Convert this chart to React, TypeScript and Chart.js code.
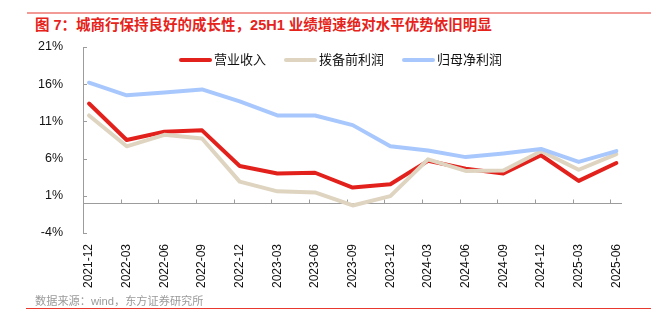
import React, { useEffect, useRef } from 'react';
import { Chart, registerables } from 'chart.js';

Chart.register(...registerables);

const categories = [
  '2021-12', '2022-03', '2022-06', '2022-09', '2022-12', '2023-03', '2023-06', '2023-09',
  '2023-12', '2024-03', '2024-06', '2024-09', '2024-12', '2025-03', '2025-06',
];
// 营业收入
const revenue = [13.4, 8.5, 9.6, 9.8, 5.0, 4.0, 4.1, 2.1, 2.55, 5.7, 4.65, 4.0, 6.45, 3.0, 5.4];
// 拨备前利润
const ppop = [11.8, 7.65, 9.2, 8.7, 2.9, 1.6, 1.45, -0.3, 0.95, 5.9, 4.35, 4.4, 7.0, 4.5, 6.6];
// 归母净利润
const netProfit = [16.2, 14.5, 14.9, 15.3, 13.7, 11.8, 11.8, 10.5, 7.65, 7.1, 6.2, 6.7, 7.3, 5.55, 7.0];

const yTickValues = [-4, 1, 6, 11, 16, 21];
const seriesNames = ['营业收入', '拨备前利润', '归母净利润'];
const seriesColors = ['#e3211c', '#ded4c0', '#a8c8fd'];
const seriesValues = [revenue, ppop, netProfit];
const seriesOrder = [2, 1, 0];

const titleText = '图 7：城商行保持良好的成长性，25H1 业绩增速绝对水平优势依旧明显';
const sourceText = '数据来源：wind，东方证券研究所';

const AXIS_COLOR = '#9c9c9c';
const TICK_SHIFT = -0.16;
const LATIN = '"Liberation Sans", Arial, "Noto Sans CJK SC", sans-serif';
const CJK = '"Liberation Sans", Arial, "Noto Sans CJK SC", sans-serif';

const axisMarks = {
  id: 'axisMarks',
  beforeDatasetsDraw(chart: any) {
    const { ctx, chartArea, scales } = chart;
    const x = scales.x;
    const y = scales.y;
    ctx.save();
    ctx.strokeStyle = AXIS_COLOR;
    ctx.lineWidth = 1;
    ctx.beginPath();
    const y0 = Math.round(y.getPixelForValue(0)) + 0.5;
    ctx.moveTo(chartArea.left, y0);
    ctx.lineTo(chartArea.right, y0);
    for (let i = 1; i < categories.length; i++) {
      const px = Math.round(x.getPixelForValue(i + TICK_SHIFT)) + 0.5;
      ctx.moveTo(px, y0);
      ctx.lineTo(px, y0 - 4);
    }
    const lx = Math.round(chartArea.left);
    y.ticks.forEach((t: any) => {
      const py = Math.round(y.getPixelForValue(t.value)) + 0.5;
      ctx.moveTo(lx, py);
      ctx.lineTo(lx + 4, py);
    });
    ctx.stroke();
    ctx.restore();
  },
};

export default function App() {
  const canvasRef = useRef<HTMLCanvasElement | null>(null);

  useEffect(() => {
    if (!canvasRef.current) return;
    const chart = new Chart(canvasRef.current, {
      type: 'line',
      data: {
        datasets: seriesNames.map((name, s) => ({
          label: name,
          data: seriesValues[s].map((v, i) => ({ x: i, y: v })),
          borderColor: seriesColors[s],
          backgroundColor: seriesColors[s],
          borderWidth: 4,
          pointRadius: 0,
          tension: 0,
          borderJoinStyle: 'round',
          borderCapStyle: 'round',
          order: seriesOrder[s],
        })),
      },
      options: {
        animation: false,
        responsive: false,
        events: [],
        layout: { padding: { top: 47, right: 35, left: 0, bottom: 0 } },
        plugins: { legend: { display: false }, tooltip: { enabled: false } },
        scales: {
          x: {
            type: 'linear',
            min: -0.16,
            max: 14.15,
            afterBuildTicks: (s: any) => {
              s.ticks = categories.map((_, i) => ({ value: i }));
            },
            afterFit: (s: any) => {
              s.height = 97;
            },
            grid: { display: false },
            border: { display: false },
            ticks: {
              autoSkip: false,
              maxRotation: 90,
              minRotation: 90,
              padding: 3,
              color: '#111',
              font: { family: LATIN, size: 12 },
              callback: (v: any) => categories[Math.round(v)] ?? '',
            },
          },
          y: {
            type: 'linear',
            min: -4,
            max: 21,
            afterBuildTicks: (s: any) => {
              s.ticks = yTickValues.map((v) => ({ value: v }));
            },
            afterFit: (s: any) => {
              s.width = 83;
            },
            grid: { display: false },
            border: { display: true, color: AXIS_COLOR, width: 1 },
            ticks: {
              padding: 12,
              color: '#111',
              font: { family: LATIN, size: 12.5 },
              callback: (v: any) => `${v}%`,
            },
          },
        },
      },
      plugins: [axisMarks],
    } as any);
    return () => chart.destroy();
  }, []);

  return (
    <div style={{ position: 'absolute', left: 0, top: 0, width: 657, height: 330, background: '#fff', overflow: 'hidden' }}>
      <div style={{ position: 'absolute', left: 27, top: 12, width: 624, height: 2, background: '#f29a96' }} />
      <div
        style={{
          position: 'absolute', left: 35, top: 15, height: 20, lineHeight: '20px',
          fontFamily: CJK, fontSize: 14.5, fontWeight: 'bold', color: '#e5231b', whiteSpace: 'nowrap',
        }}
      >
        {titleText}
      </div>
      <canvas ref={canvasRef} width={657} height={330} style={{ position: 'absolute', left: 0, top: 0, width: 657, height: 330 }} />
      <div style={{ position: 'absolute', left: 179, top: 52, height: 16, display: 'flex', alignItems: 'center', whiteSpace: 'nowrap' }}>
        {seriesNames.map((name, s) => (
          <div key={name} style={{ display: 'flex', alignItems: 'center', marginRight: 18 }}>
            <div style={{ width: 33, height: 4, borderRadius: 2, background: seriesColors[s], marginRight: 2 }} />
            <span style={{ fontFamily: CJK, fontSize: 13, lineHeight: '16px', color: '#111' }}>{name}</span>
          </div>
        ))}
      </div>
      <div
        style={{
          position: 'absolute', left: 35, top: 293, height: 16, lineHeight: '16px',
          fontFamily: CJK, fontSize: 11.2, color: '#9a9a9a', whiteSpace: 'nowrap',
        }}
      >
        {sourceText}
      </div>
      <div style={{ position: 'absolute', left: 26, top: 308, width: 625, height: 1, background: '#e8392e' }} />
    </div>
  );
}
